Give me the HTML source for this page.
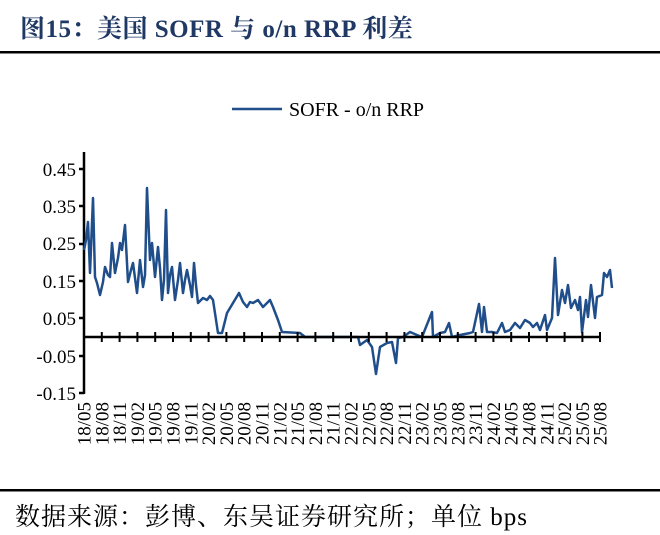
<!DOCTYPE html>
<html><head><meta charset="utf-8"><style>
body{margin:0;background:#fff;width:660px;height:535px;overflow:hidden}
svg{display:block}
</style></head><body>
<svg width="660" height="535" xmlns="http://www.w3.org/2000/svg">
<text x="20" y="37" font-family="Liberation Serif, 'Noto Serif CJK SC', serif" font-size="25" font-weight="bold" fill="#1f3864" letter-spacing="0.5">图15：美国 SOFR 与 o/n RRP 利差</text>
<rect x="0" y="51" width="660" height="2.5" fill="#000"/>
<line x1="232" y1="109" x2="282" y2="109" stroke="#1f4e8a" stroke-width="2.5"/>
<text x="289" y="116" font-family="Liberation Serif, serif" font-size="20" fill="#000">SOFR - o/n RRP</text>
<g font-family="Liberation Serif, serif" font-size="19" fill="#000" text-anchor="end">
<text x="76" y="176">0.45</text><text x="76" y="213">0.35</text><text x="76" y="250">0.25</text><text x="76" y="288">0.15</text><text x="76" y="325">0.05</text><text x="76" y="363">-0.05</text><text x="76" y="400">-0.15</text>
</g>
<g stroke="#000" stroke-width="2.5">
<line x1="84" y1="152" x2="84" y2="394"/>
<line x1="79" y1="169" x2="84" y2="169"/><line x1="79" y1="206" x2="84" y2="206"/><line x1="79" y1="244" x2="84" y2="244"/><line x1="79" y1="281" x2="84" y2="281"/><line x1="79" y1="318" x2="84" y2="318"/><line x1="79" y1="356" x2="84" y2="356"/><line x1="79" y1="393" x2="84" y2="393"/>
</g>
<polyline fill="none" stroke="#1f4e8a" stroke-width="2.5" stroke-linejoin="round" points="84,250 86,240 88,222 90,273 93,198 95,277 97,283 100,295 103,282 105,267 108,275 110,277 112,243 115,273 118,258 120,243 122,250 125,225 128,282 131,270 133,263 135,278 137,293 140,260 143,287 145,275 147,188 150,260 152,243 155,277 158,247 160,268 162,300 164,280 166,210 168,293 170,275 172,267 175,300 178,280 180,263 183,293 185,280 187,270 190,285 192,297 194,263 196,285 198,303 203,298 207,300 210,296 213,300 218,333 222,333 227,313 233,303 236,298 239,293 243,302 247,307 250,302 253,303 258,300 263,307 267,303 270,300 273,307 278,320 282,332 300,333 305,337 358,337 360,345 367,340 372,347 376,374 380,347 387,343 392,342 396,363 398,338 403,337 410,332 417,335 422,337 432,312 433,337 440,333 445,332 449,323 452,337 460,335 470,333 473,332 479,304 482,332 484,307 487,332 492,332 497,333 502,323 505,332 510,330 515,323 520,328 525,320 530,323 533,327 537,323 540,330 545,315 547,330 552,318 555,258 558,315 562,290 565,303 568,285 571,308 575,300 578,310 580,297 582,332 586,300 588,317 591,285 595,318 597,297 602,295 604,273 607,277 610,270 612,288"/>
<line x1="84" y1="337" x2="600" y2="337" stroke="#000" stroke-width="2.5"/>
<g stroke="#000" stroke-width="2">
<path d="M84 332V342M101.8 332V342M119.6 332V342M137.4 332V342M155.2 332V342M173 332V342M190.8 332V342M208.6 332V342M226.4 332V342M244.2 332V342M262 332V342M279.8 332V342M297.6 332V342M315.4 332V342M333.2 332V342M351 332V342M368.8 332V342M386.6 332V342M404.4 332V342M422.2 332V342M440 332V342M457.8 332V342M475.6 332V342M493.4 332V342M511.2 332V342M529 332V342M546.8 332V342M564.6 332V342M582.4 332V342M600 332V342"/>
</g>
<g font-family="Liberation Serif, serif" font-size="19" fill="#000" text-anchor="end">
<text transform="translate(90.5,402) rotate(-90)">18/05</text>
<text transform="translate(108.3,402) rotate(-90)">18/08</text>
<text transform="translate(126.1,402) rotate(-90)">18/11</text>
<text transform="translate(143.9,402) rotate(-90)">19/02</text>
<text transform="translate(161.7,402) rotate(-90)">19/05</text>
<text transform="translate(179.5,402) rotate(-90)">19/08</text>
<text transform="translate(197.3,402) rotate(-90)">19/11</text>
<text transform="translate(215.1,402) rotate(-90)">20/02</text>
<text transform="translate(232.9,402) rotate(-90)">20/05</text>
<text transform="translate(250.7,402) rotate(-90)">20/08</text>
<text transform="translate(268.5,402) rotate(-90)">20/11</text>
<text transform="translate(286.3,402) rotate(-90)">21/02</text>
<text transform="translate(304.1,402) rotate(-90)">21/05</text>
<text transform="translate(321.9,402) rotate(-90)">21/08</text>
<text transform="translate(339.7,402) rotate(-90)">21/11</text>
<text transform="translate(357.5,402) rotate(-90)">22/02</text>
<text transform="translate(375.3,402) rotate(-90)">22/05</text>
<text transform="translate(393.1,402) rotate(-90)">22/08</text>
<text transform="translate(410.9,402) rotate(-90)">22/11</text>
<text transform="translate(428.7,402) rotate(-90)">23/02</text>
<text transform="translate(446.5,402) rotate(-90)">23/05</text>
<text transform="translate(464.3,402) rotate(-90)">23/08</text>
<text transform="translate(482.1,402) rotate(-90)">23/11</text>
<text transform="translate(499.9,402) rotate(-90)">24/02</text>
<text transform="translate(517.7,402) rotate(-90)">24/05</text>
<text transform="translate(535.5,402) rotate(-90)">24/08</text>
<text transform="translate(553.3,402) rotate(-90)">24/11</text>
<text transform="translate(571.1,402) rotate(-90)">25/02</text>
<text transform="translate(588.9,402) rotate(-90)">25/05</text>
<text transform="translate(606.7,402) rotate(-90)">25/08</text>
</g>
<rect x="0" y="489" width="660" height="2.5" fill="#000"/>
<text x="15" y="525" font-family="Liberation Serif, 'Noto Serif CJK SC', serif" font-size="25" fill="#000" letter-spacing="1">数据来源：彭博、东吴证券研究所；单位 bps</text>
</svg>
</body></html>
